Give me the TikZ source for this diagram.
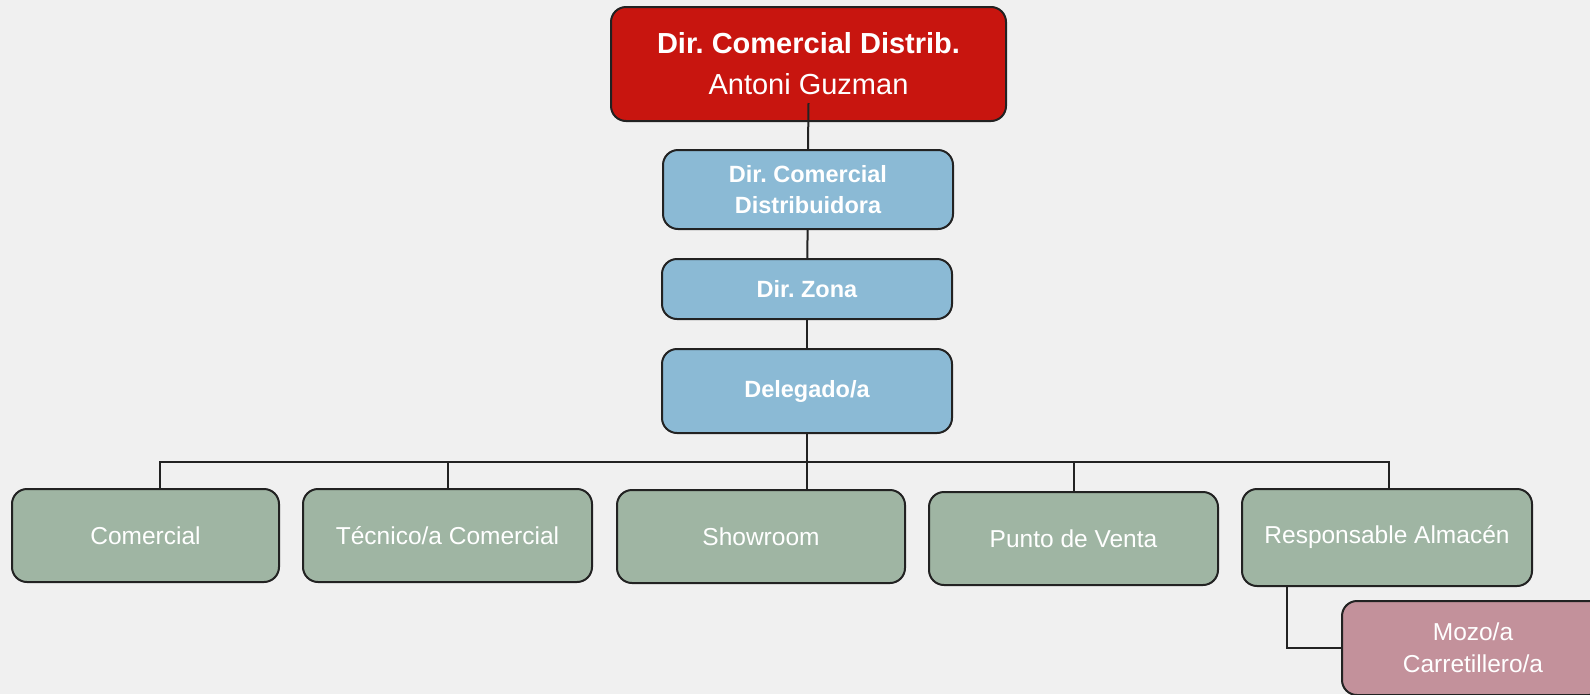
\documentclass[tikz,border=0pt]{standalone}
\usepackage{fontspec}
\setmainfont{Liberation Sans}
\frenchspacing
\definecolor{bggray}{HTML}{F0F0F0}
\definecolor{topred}{HTML}{C8150F}
\definecolor{dirblue}{HTML}{8BBAD5}
\definecolor{areagreen}{HTML}{9FB5A3}
\definecolor{staffpink}{HTML}{C3919B}
\definecolor{edge}{HTML}{222222}
\tikzset{
  box/.style={draw=edge,line width=2pt,rounded corners=15pt,text=white,align=center,inner sep=0pt},
  topbox/.style={box,fill=topred,font=\fontsize{29}{41}\selectfont},
  dirbox/.style={box,fill=dirblue,minimum width=290pt,font=\fontsize{23.5}{31}\selectfont\bfseries},
  areabox/.style={box,fill=areagreen,minimum height=93pt,font=\fontsize{24.5}{32}\selectfont},
  staffbox/.style={box,fill=staffpink,font=\fontsize{24.5}{32}\selectfont},
  link/.style={draw=edge,line width=2pt},
}
\begin{document}
\begin{tikzpicture}[x=1pt,y=-1pt]
\fill[bggray] (0,0) rectangle (1590,694);
\useasboundingbox (0,0) rectangle (1590,694);
\clip (0,0) rectangle (1590,694);
% direction
\node[topbox,minimum width=395pt,minimum height=114pt] (dir) at (808.5,64) {\textbf{Dir. Comercial Distrib.}\\Antoni Guzman};
\node[dirbox,minimum height=79pt] (dcd) at (808,189.5) {Dir. Comercial\\Distribuidora};
\node[dirbox,minimum height=60pt] (zona) at (807,289) {Dir. Zona};
\node[dirbox,minimum height=84pt] (deleg) at (807,391) {Delegado/a};
% areas
\node[areabox,minimum width=267pt] (com) at (145.5,535.5) {Comercial};
\node[areabox,minimum width=289pt] (tec) at (447.5,535.5) {Técnico/a Comercial};
\node[areabox,minimum width=288pt] (show) at (761,536.5) {Showroom};
\node[areabox,minimum width=289pt] (punto) at (1073.5,538.5) {Punto de Venta};
\node[areabox,minimum width=290pt,minimum height=97pt] (resp) at (1387,537.5) {Responsable Almacén};
\node[staffbox,minimum width=262pt,minimum height=94pt] (mozo) at (1473,648) {Mozo/a\\Carretillero/a};
% links
\draw[link] ([yshift=19pt]dir.south) -- (dcd.north);
\draw[link] (dcd) -- (zona);
\draw[link] (zona) -- (deleg);
\coordinate (bus) at (807,462);
\draw[link] (deleg.south) -- (bus);
\foreach \n/\s in {com/14.5,tec/0,show/46,punto/0,resp/2}
  \draw[link] (bus) -| ([xshift=\s pt]\n.north);
\draw[link] ([xshift=-100pt]resp.south) |- (mozo.west);
\end{tikzpicture}
\end{document}
